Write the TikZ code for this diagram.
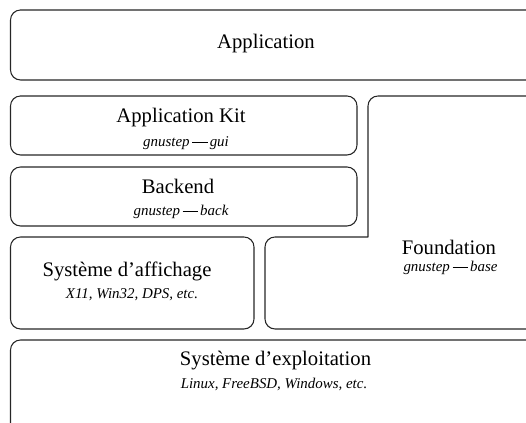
\documentclass[tikz,border=0pt]{standalone}
\usepackage{fontspec}
\setmainfont{Liberation Serif}
\newcommand{\gmin}{\kern0.18em\rule[0.26em]{1.05em}{0.05em}\kern0.12em}
\tikzset{
  layer/.style={draw=black!85, line width=0.8pt, rounded corners=7.5pt, line cap=round},
  title/.style={anchor=base, inner sep=0pt, font=\fontsize{15.5}{18}\selectfont},
  sub/.style={anchor=base, inner sep=0pt, font=\fontsize{11.2}{14}\selectfont\itshape},
}
\begin{document}
\begin{tikzpicture}[x=0.75pt, y=-0.75pt]
\useasboundingbox (0,0) rectangle (526,423);
\clip (0,0) rectangle (526,423);
% boxes
\draw[layer] (10.5,10) rectangle (545,80);
\draw[layer] (10.5,96) rectangle (357,155);
\draw[layer] (10.5,167) rectangle (357,226);
\draw[layer] (10.5,237) rectangle (254,329);
\draw[layer] (368,237) -- (368,96) -- (545,96) -- (545,329) -- (265,329) -- (265,237) -- (368,237);
\draw[layer] (10.5,340) rectangle (545,440);
% labels
\node[title] (app) at (266,48.5) {Application};
\node[title] (kit) at (181,123) {Application Kit};
\node[sub] (kitsub) at (186,147) {gnustep\gmin gui};
\node[title] (back) at (178,194) {Backend};
\node[sub] (backsub) at (181,215.5) {gnustep\gmin back};
\node[title] (disp) at (127,277) {Système d’affichage};
\node[sub] (dispsub) at (132,299) {X11, Win32, DPS, etc.};
\node[title] (found) at (449,255) {Foundation};
\node[sub] (foundsub) at (450.5,272) {gnustep\gmin base};
\node[title] (os) at (275.5,366) {Système d’exploitation};
\node[sub] (ossub) at (274,388.5) {Linux, FreeBSD, Windows, etc.};
\end{tikzpicture}
\end{document}
